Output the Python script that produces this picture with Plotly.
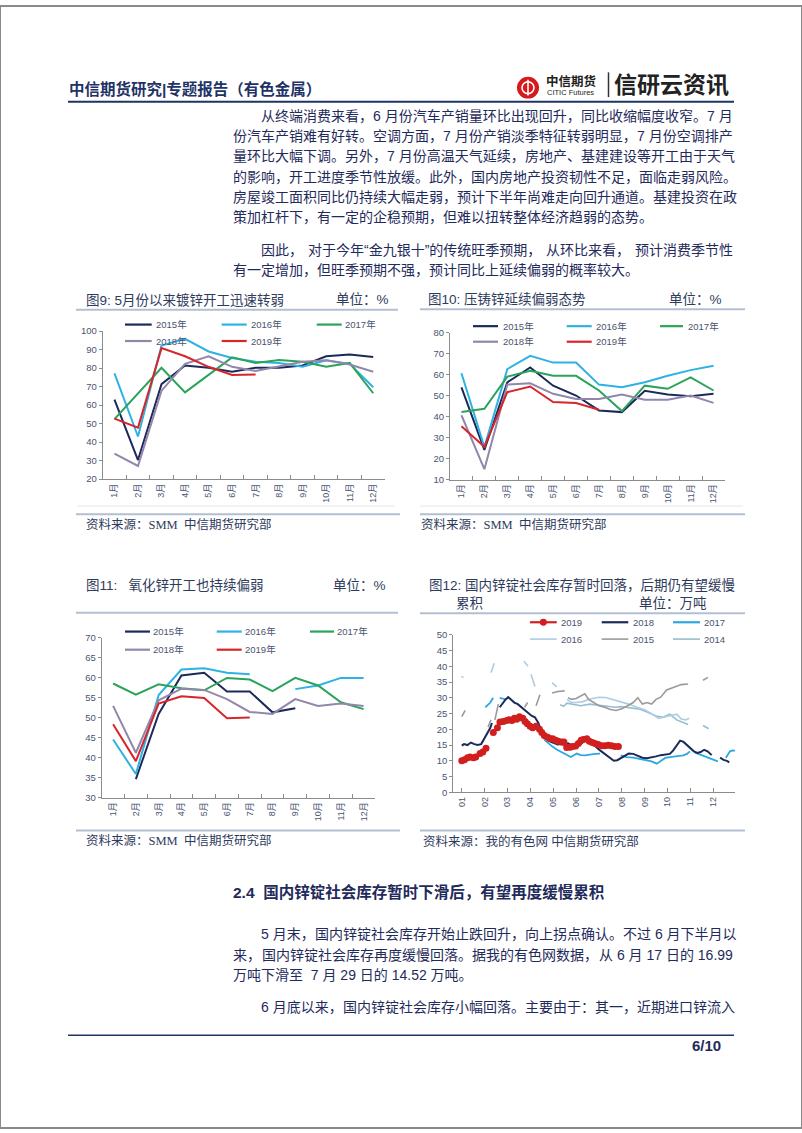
import plotly.graph_objects as go

# ---------------- data ----------------
months = ["1月", "2月", "3月", "4月", "5月", "6月", "7月", "8月", "9月", "10月", "11月", "12月"]

# Fig 9: galvanizing operating rate (%)
galv_2015 = [63, 30.3, 71.3, 81.4, 80.2, 78.0, 80.2, 80.2, 81.4, 86.4, 87.3, 86.0]
galv_2016 = [77.2, 43, 92.2, 95.8, 89.0, 85.5, 83.4, 82.8, 80.7, 84.2, 82.3, 69.6]
galv_2017 = [52.4, 66.3, 80.2, 66.9, 76.6, 85.8, 82.8, 84.4, 83.4, 80.7, 82.8, 66.4]
galv_2018 = [33.8, 27.1, 67.8, 82.3, 86.4, 80.7, 78.4, 80.9, 83.4, 84.2, 81.9, 78.0]
galv_2019 = [52.7, 47.8, 90.8, 86.4, 80.7, 76.3, 76.6, None, None, None, None, None]

# Fig 10: die-casting zinc alloy operating rate (%)
die_2015 = [54, 24.2, 56.4, 63.5, 54.8, 50.1, 43.0, 42.2, 52.4, 50.6, 49.8, 50.9]
die_2016 = [60.7, 25.5, 62.7, 69.0, 65.8, 65.8, 55.3, 54.0, 56.4, 59.5, 62.2, 64.3]
die_2017 = [42.2, 43.8, 59.1, 61.9, 59.5, 59.5, 52.5, 42.7, 54.8, 53.3, 58.8, 52.5]
die_2018 = [40.7, 15.0, 55.3, 55.9, 50.9, 48.5, 48.5, 50.6, 48.1, 48.1, 50.1, 46.6]
die_2019 = [35.5, 25.7, 51.7, 54.4, 47.0, 46.5, 43.3, None, None, None, None, None]

# Fig 11: zinc oxide operating rate (%)
oxi_2015 = [None, 34.6, 50.9, 60.5, 61.2, 56.5, 56.5, 51.3, 52.3, None, None, None]
oxi_2016 = [44.5, 35.9, 55.6, 62.0, 62.3, 61.2, 60.8, None, 57.1, 58.0, 59.9, 59.9]
oxi_2017 = [58.5, 55.7, 58.3, 57.3, 56.8, 59.9, 59.5, 56.6, 59.9, 58.0, 53.8, 52.1]
oxi_2018 = [52.9, 41.2, 54.3, 57.2, 56.9, 54.6, 51.4, 50.9, 54.6, 52.9, 53.5, 52.9]
oxi_2019 = [48.3, 39.1, 53.5, 55.3, 54.9, 49.8, 50.0, None, None, None, None, None]

# Fig 12: domestic zinc ingot social inventory (10k t); x = month of year (fractional)
inv_x_2019 = [1.0, 1.12, 1.25, 1.36, 1.51, 1.61, 1.80, 1.92, 2.06, None, 2.38, 2.56, 2.67, 2.82,
              2.97, 3.07, 3.19, 3.30, 3.40, 3.52, 3.67, 3.77, 3.87, 3.99, 4.10, 4.25, 4.40, 4.50,
              4.61, 4.76, 4.86, 4.98, 5.11, 5.22, 5.37, 5.47, 5.59, 5.74, 5.85, 5.98, 6.10, 6.22,
              6.32, 6.47, 6.58, 6.71, 6.83, 6.97, 7.12, 7.26, 7.41, 7.55, 7.70, 7.85]
inv_2019 = [10.0, 10.3, 11.0, 11.2, 11.0, 11.2, 12.3, 12.8, 14.0, None, 19.0, 20.5, 22.3, 22.5,
            22.8, 23.0, 22.8, 23.5, 23.2, 24.0, 23.5, 22.5, 21.8, 21.0, 20.5, 21.0, 20.0, 19.0,
            18.0, 17.5, 17.0, 17.0, 16.5, 16.2, 16.0, 16.0, 14.2, 14.3, 14.5, 14.7, 15.5, 16.5,
            16.8, 17.0, 16.2, 15.8, 15.5, 15.2, 14.8, 14.8, 14.9, 14.8, 14.5, 14.5]

inv_x_2018 = [1.0, 1.1, 1.25, 1.4, 1.55, 1.7, 1.85, 2.0, 2.12, 2.25, 2.32, None,
              2.66, 2.8, 2.92, 3.03, 3.15, 3.3, 3.45, 3.6, 3.75, 3.9, 4.05, 4.2, 4.35, 4.5,
              4.62, 4.75, 4.9, 5.05, 5.2, 5.35, 5.5, 5.65, 5.8, 6.0, 6.2, 6.35, 6.5, 6.62,
              6.75, 6.9, 7.05, 7.2, 7.35, 7.5, 7.65, 7.8, 8.0, 8.15, 8.3, 8.5, 8.7, 8.9,
              9.1, 9.3, 9.5, 9.7, 9.9, 10.1, 10.25, 10.4, 10.55, 10.7, 10.85, 11.0, 11.15,
              11.3, 11.45, 11.6, 11.75, 11.93, None, 12.3, 12.45, 12.6, 12.7]
inv_2018 = [14.8, 15.3, 15.0, 15.8, 15.3, 15.0, 15.3, 17.2, 18.5, 20.5, 22.0, None,
            27.0, 28.5, 29.5, 30.2, 29.5, 28.5, 28.0, 27.0, 26.0, 25.0, 24.3, 23.8, 22.0, 19.0,
            17.8, 16.8, 16.0, 15.5, 15.2, 15.3, 15.0, 15.5, 15.0, 14.6, 15.3, 16.3, 17.0, 16.5,
            15.3, 14.2, 13.3, 12.5, 11.8, 10.8, 10.0, 10.2, 11.0, 11.8, 12.3, 12.2, 11.7, 11.0,
            10.8, 11.0, 11.4, 11.8, 11.9, 12.2, 13.3, 15.0, 16.4, 16.0, 15.0, 14.2, 13.0,
            12.5, 12.8, 13.5, 13.0, 11.8, None, 11.0, 10.3, 10.0, 9.5]

inv_x_2017 = [2.03, 2.15, 2.25, 2.37, None, 2.66, 2.8, 2.92, None,
              4.3, 4.4, 4.5, 4.65, 4.8, 4.95, 5.15, 5.36, 5.55, 5.77, 6.03, 6.2, 6.39, 6.6,
              6.83, 7.05, None,
              7.95, 8.2, 8.5, 8.8, 9.1, 9.3, 9.53, 9.7, 9.9, 10.1, 10.3, 10.5, 10.69, 10.85,
              10.98, None, 11.2, 11.4, 11.55, 11.7, 11.86, 12.0, 12.2, None,
              12.55, 12.65, 12.73, 12.85, 12.95]
inv_2017 = [27.0, 28.0, 28.5, 30.0, None, 30.0, 29.8, 29.5, None,
            22.0, 20.0, 18.5, 16.5, 15.5, 14.6, 13.6, 12.8, 12.0, 11.2, 12.3, 11.8, 11.7, 12.0,
            12.2, 12.3, None,
            11.7, 11.2, 11.0, 10.6, 10.2, 9.8, 9.1, 10.0, 10.9, 11.2, 11.4, 11.6, 11.7, 12.2,
            13.0, None, 12.6, 12.0, 11.8, 11.2, 10.7, 10.2, 9.8, None,
            11.0, 12.2, 13.0, 13.3, 13.2]

inv_x_2016 = [0.98, 1.08, None, 2.28, 2.42, None, 3.72, 3.9, None, 4.03, 4.2, None, 4.95, 5.15,
              None, 5.6, 5.8, 6.0, 6.3, 6.6, 7.0, 7.3, 7.6, 8.0, 8.3, 8.65, 9.0, 9.3, 9.6, 9.9,
              10.2, 10.4, 10.6, 10.8, 10.95]
inv_2016 = [36.8, 36.4, None, 38.0, 41.0, None, 41.6, 40.0, None, 37.5, 33.6, None, 34.8, 33.5,
            None, 29.5, 28.5, 28.5, 28.8, 29.6, 30.2, 30.1, 29.5, 28.8, 28.0, 27.0, 26.2, 25.0,
            23.5, 24.0, 24.5, 24.8, 23.3, 23.0, 23.5]

inv_x_2015 = [1.0, 1.15, None, 2.15, 2.28, None, 2.45, 2.6, None, 3.75, 3.88, None, 4.25, 4.42,
              None, 4.95, 5.2, 5.5, None, 5.65, 5.8, 6.0, 6.2, 6.38, 6.55, 6.75, 7.0, 7.25, 7.5,
              7.75, 8.0, 8.25, 8.5, 8.7, 8.9, 9.1, 9.3, 9.5, 9.7, 9.96, 10.2, 10.4, 10.6, 10.9,
              None, 11.55, 11.77]
inv_2015 = [24.0, 26.0, None, 20.7, 23.0, None, 23.0, 28.0, None, 27.0, 28.5, None, 27.5, 31.0,
            None, 31.5, 32.0, 32.2, None, 30.0, 29.5, 29.8, 30.5, 31.3, 29.5, 28.5, 27.5, 27.0,
            26.3, 26.0, 26.5, 27.5, 28.5, 30.0, 28.0, 28.5, 28.0, 29.5, 30.2, 32.5, 33.2, 33.8,
            34.2, 34.4, None, 35.6, 36.5]

inv_x_2014 = [5.3, 5.45, 5.6, 5.9, 6.2, 6.6, 7.0, 7.34, 7.7, 8.0, 8.4, 8.8, 9.1, 9.5, 9.8, 10.1,
              10.4, 10.7, 10.9, None, 11.55, 11.8]
inv_2014 = [27.8, 27.3, 28.3, 27.8, 27.5, 28.0, 27.6, 27.3, 27.0, 27.2, 26.8, 26.4, 25.5, 24.2,
            23.8, 24.8, 23.0, 22.2, 21.5, None, 21.2, 20.2]

inv_tickvals = [1, 2, 3, 4, 5, 6, 7, 8, 9, 10, 11, 12]
inv_ticktext = ["01", "02", "03", "04", "05", "06", "07", "08", "09", "10", "11", "12"]

# ---------------- text ----------------
header_title = "中信期货研究|专题报告（有色金属）"
para1 = [
    "从终端消费来看，6 月份汽车产销量环比出现回升，同比收缩幅度收窄。7 月",
    "份汽车产销难有好转。空调方面，7 月份产销淡季特征转弱明显，7 月份空调排产",
    "量环比大幅下调。另外，7 月份高温天气延续，房地产、基建建设等开工由于天气",
    "的影响，开工进度季节性放缓。此外，国内房地产投资韧性不足，面临走弱风险。",
    "房屋竣工面积同比仍持续大幅走弱，预计下半年尚难走向回升通道。基建投资在政",
    "策加杠杆下，有一定的企稳预期，但难以扭转整体经济趋弱的态势。",
]
para2 = [
    "因此，对于今年“金九银十”的传统旺季预期，从环比来看，预计消费季节性",
    "有一定增加，但旺季预期不强，预计同比上延续偏弱的概率较大。",
]
section_title = "2.4\u00a0\u00a0国内锌锭社会库存暂时下滑后，有望再度缓慢累积"
para3 = [
    "5 月末，国内锌锭社会库存开始止跌回升，向上拐点确认。不过 6 月下半月以",
    "来，国内锌锭社会库存再度缓慢回落。据我的有色网数据，从 6 月 17 日的 16.99",
    "万吨下滑至\u00a0\u00a07 月 29 日的 14.52 万吨。",
]
para4 = ["6 月底以来，国内锌锭社会库存小幅回落。主要由于：其一，近期进口锌流入"]

# ---------------- styling ----------------
W, H = 802, 1133
SANS = "Liberation Sans, Noto Sans CJK SC"
SERIF = "Liberation Serif, Noto Sans CJK SC"
BODY = "#1f2b5b"
NAVY = "#1f3366"
TITLE = "#2f3b5c"
TICK = "#4a5470"
AXIS = "#8c8c8c"
SEP = "#b3bfd1"
C15, C16, C17, C18, C19 = "#1c2a5a", "#2eb2e4", "#2ba35a", "#9287ab", "#d7262b"


def px(x):
    return x / W


def py(y):
    return 1 - y / H


annotations = []
shapes = []


def text(x, y, s, size, color=BODY, family=SANS, anchor="left", bold=False):
    annotations.append(dict(
        x=px(x), y=py(y), xref="paper", yref="paper", text=s, showarrow=False,
        xanchor=anchor, yanchor="middle", borderpad=0,
        font=dict(size=size, color=color, family=family, weight="bold" if bold else "normal")))


def hline(x0, x1, y, color, width):
    shapes.append(dict(type="line", xref="paper", yref="paper", x0=px(x0), x1=px(x1),
                       y0=py(y), y1=py(y), line=dict(color=color, width=width)))


def est_w(s, fs):
    w = 0.0
    for ch in s:
        o = ord(ch)
        if ch in "“”‘’":
            w += 0.333
        elif o >= 0x2E80:
            w += 1.0
        elif ch in " .\u00a0":
            w += 0.278
        elif ch.isdigit():
            w += 0.556
        else:
            w += 0.6
    return w * fs


def body_line(s, y, left, right, justify, size=14):
    chunks, cur = [], ""
    for ch in s:
        cur += ch
        if ch in "，。、：；":
            chunks.append(cur)
            cur = ""
    if cur:
        chunks.append(cur)
    natural = est_w(s, size)
    extra = max(0.0, (right - left) - natural) if (justify and len(chunks) > 1) else 0.0
    acc = 0.0
    for i, c in enumerate(chunks):
        gap = extra * i / (len(chunks) - 1) if len(chunks) > 1 else 0.0
        text(left + acc + gap, y, c, size)
        acc += est_w(c, size)


fig = go.Figure()

# ---------------- line charts (category month axis) ----------------
axis_font = dict(family=SANS, size=9.5, color=TICK)
month_font = dict(family=SANS, size=9, color=TICK)


def ycfg(dom, rng, dtick, anchor):
    return dict(domain=dom, range=rng, dtick=dtick, tick0=rng[0], anchor=anchor,
                showgrid=False, zeroline=False, showline=True, linecolor=AXIS, linewidth=1,
                ticks="outside", ticklen=3, tickcolor=AXIS, tickfont=axis_font, fixedrange=True)


def xcat(dom, anchor):
    return dict(domain=dom, anchor=anchor, type="category", categoryorder="array",
                categoryarray=months, range=[-0.5, 11.5], showgrid=False, zeroline=False,
                showline=True, linecolor=AXIS, linewidth=1, ticks="inside", ticklen=4,
                tickcolor=AXIS, tickson="boundaries", tickangle=-90, tickfont=month_font,
                fixedrange=True)


charts = [
    (1, [galv_2015, galv_2016, galv_2017, galv_2018, galv_2019], (102.7, 385), (328.3, 477.7), [20, 100], 10),
    (2, [die_2015, die_2016, die_2017, die_2018, die_2019], (450, 725), (330, 478.3), [10, 80], 10),
    (3, [oxi_2015, oxi_2016, oxi_2017, oxi_2018, oxi_2019], (101.7, 375), (637.7, 799.3), [30, 70], 5),
]
colors = [C15, C16, C17, C18, C19]
names = ["2015年", "2016年", "2017年", "2018年", "2019年"]
layout_axes = {}
for idx, series, (x0, x1), (ytop, ybot), yr, dt in charts:
    xa = "x" if idx == 1 else f"x{idx}"
    ya = "y" if idx == 1 else f"y{idx}"
    for vals, col, nm in zip(series, colors, names):
        fig.add_trace(go.Scatter(x=months, y=vals, xaxis=xa, yaxis=ya, mode="lines", name=nm,
                                 line=dict(color=col, width=2), showlegend=False, hoverinfo="skip"))
    sfx = "" if idx == 1 else str(idx)
    layout_axes["xaxis" + sfx] = xcat([px(x0), px(x1)], ya)
    layout_axes["yaxis" + sfx] = ycfg([py(ybot), py(ytop)], yr, dt, xa)

# ---------------- inventory chart ----------------
inv_series = [
    (inv_x_2014, inv_2014, "#98bdd0", 1.6, "2014"),
    (inv_x_2016, inv_2016, "#aecde2", 1.6, "2016"),
    (inv_x_2015, inv_2015, "#9a9a9a", 1.6, "2015"),
    (inv_x_2017, inv_2017, "#2aa8df", 1.8, "2017"),
    (inv_x_2018, inv_2018, "#1c2a5a", 2.0, "2018"),
]
for xs, ys, col, wd, nm in inv_series:
    fig.add_trace(go.Scatter(x=xs, y=ys, xaxis="x4", yaxis="y4", mode="lines", name=nm,
                             line=dict(color=col, width=wd), showlegend=False, hoverinfo="skip"))
fig.add_trace(go.Scatter(x=inv_x_2019, y=inv_2019, xaxis="x4", yaxis="y4", mode="lines+markers",
                         name="2019", line=dict(color="#d11f1f", width=2),
                         marker=dict(color="#d11f1f", size=7), showlegend=False, hoverinfo="skip"))

layout_axes["xaxis4"] = dict(domain=[px(453.3), px(735)], anchor="y4", range=[0.63, 12.95],
                             tickvals=inv_tickvals, ticktext=inv_ticktext, tickangle=-90,
                             showgrid=False, zeroline=False, showline=True, linecolor=AXIS,
                             linewidth=1, ticks="inside", ticklen=4, tickcolor=AXIS,
                             tickfont=month_font, fixedrange=True)
layout_axes["yaxis4"] = ycfg([py(794), py(635)], [0, 50], 5, "x4")

# ---------------- legends (drawn keys + labels) ----------------
LEG = 9.5


def legend_item(x0, x1, y, color, label, tx, width=2.2, marker=False):
    shapes.append(dict(type="line", xref="paper", yref="paper", x0=px(x0), x1=px(x1),
                       y0=py(y), y1=py(y), line=dict(color=color, width=width)))
    if marker:
        cx, r = (x0 + x1) / 2, 3.5
        shapes.append(dict(type="circle", xref="paper", yref="paper", x0=px(cx - r), x1=px(cx + r),
                           y0=py(y + r), y1=py(y - r), fillcolor=color, line=dict(color=color, width=0)))
    text(tx, y, label, LEG, color=TICK)


def five_legend(r1, r2, cols):
    (a0, a1, at), (b0, b1, bt), (c0, c1, ct) = cols
    legend_item(a0, a1, r1, C15, "2015年", at)
    legend_item(b0, b1, r1, C16, "2016年", bt)
    legend_item(c0, c1, r1, C17, "2017年", ct)
    legend_item(a0, a1, r2, C18, "2018年", at)
    legend_item(b0, b1, r2, C19, "2019年", bt)


five_legend(321.7, 338.3, [(125, 151.7, 155), (221.7, 246.7, 250), (316.7, 341.7, 344)])
five_legend(323.3, 339, [(473, 498, 501.7), (566.7, 591.7, 595), (660, 683, 686.7)])
five_legend(631.7, 650, [(125, 150, 152), (216.7, 241.7, 244), (310, 334, 336)])

legend_item(530, 556.7, 622.3, "#d11f1f", "2019", 560, marker=True)
legend_item(601.7, 628.3, 622.3, "#1c2a5a", "2018", 631.7)
legend_item(673, 700, 622.3, "#2aa8df", "2017", 703.3)
legend_item(530, 556.7, 639.3, "#aecde2", "2016", 560, width=1.6)
legend_item(601.7, 628.3, 639.3, "#9a9a9a", "2015", 631.7, width=1.6)
legend_item(673, 700, 639.3, "#98bdd0", "2014", 703.3, width=1.6)

# ---------------- page header ----------------
text(68, 83.5, header_title, 15.5, color=NAVY, family=SANS, bold=True)
hline(68, 734, 96.7, NAVY, 2)
shapes.append(dict(type="circle", xref="paper", yref="paper", x0=px(517), x1=px(539),
                   y0=py(93.5), y1=py(71.5), fillcolor="#d7191c", line=dict(width=0)))
shapes.append(dict(type="circle", xref="paper", yref="paper", x0=px(522), x1=px(534),
                   y0=py(88.5), y1=py(76.5), fillcolor="rgba(0,0,0,0)", line=dict(color="white", width=1.6)))
shapes.append(dict(type="line", xref="paper", yref="paper", x0=px(528), x1=px(528),
                   y0=py(90.5), y1=py(74.5), line=dict(color="white", width=1.6)))
text(545, 76, "中信期货", 12.5, color="#231f20", family=SANS, bold=True)
text(546, 87.5, "CITIC Futures", 7.5, color="#231f20", family=SANS)
shapes.append(dict(type="line", xref="paper", yref="paper", x0=px(608.5), x1=px(608.5),
                   y0=py(92), y1=py(67), line=dict(color="#333333", width=1.5)))
text(613, 80, "信研云资讯", 23, color="#222222", family=SANS, bold=True)

# ---------------- body text ----------------
LEFT, RIGHT, INDENT = 232, 732, 260
for i, s in enumerate(para1):
    body_line(s, 110.7 + 20.55 * i, INDENT if i == 0 else LEFT, RIGHT, i < len(para1) - 1)
for i, s in enumerate(para2):
    body_line(s, 246 + 20.6 * i, INDENT if i == 0 else LEFT, RIGHT, i < len(para2) - 1)
text(LEFT, 895, section_title, 15.5, color=BODY, bold=True)
for i, s in enumerate(para3):
    body_line(s, 937.3 + 20.5 * i, INDENT if i == 0 else LEFT, RIGHT, i < len(para3) - 1)
body_line(para4[0], 1010.7, INDENT, RIGHT, True)

# ---------------- chart titles, separators, sources ----------------
TS = 13.5
text(85, 296.7, "图9: 5月份以来镀锌开工迅速转弱", TS, color=TITLE)
text(335, 296.7, "单位：%", TS, color=TITLE)
text(426.7, 296.7, "图10: 压铸锌延续偏弱态势", TS, color=TITLE)
text(668, 296.7, "单位：%", TS, color=TITLE)
text(85, 585, "图11:\u00a0\u00a0\u00a0氧化锌开工也持续偏弱", TS, color=TITLE)
text(331.7, 585, "单位：%", TS, color=TITLE)
text(428.3, 585, "图12: 国内锌锭社会库存暂时回落，后期仍有望缓慢", TS, color=TITLE)
text(455, 603.3, "累积", TS, color=TITLE)
text(638, 603.3, "单位：万吨", TS, color=TITLE)

hline(76, 398, 306.7, SEP, 2)
hline(420, 745, 306.2, SEP, 2)
hline(76, 398, 612.7, SEP, 2)
hline(420, 745, 613.3, SEP, 2)
hline(77, 395, 505, "#e6e6e6", 1)
hline(420, 743, 505, "#e6e6e6", 1)
hline(76, 400, 513.3, SEP, 2)
hline(420, 745, 513.3, SEP, 2)
hline(76, 400, 832.5, SEP, 2)
hline(420, 745, 832.5, SEP, 2)

SRC = 12.5
text(85, 523.3, "资料来源：SMM\u00a0\u00a0中信期货研究部", SRC, color="#2f3b5c", family=SERIF)
text(420, 523.3, "资料来源：SMM\u00a0\u00a0中信期货研究部", SRC, color="#2f3b5c", family=SERIF)
text(85, 842.7, "资料来源：SMM\u00a0\u00a0中信期货研究部", SRC, color="#2f3b5c", family=SERIF)
text(421.7, 843.3, "资料来源：我的有色网\u00a0中信期货研究部", SRC, color="#2f3b5c", family=SERIF)

# ---------------- footer ----------------
hline(68, 734, 1039.3, NAVY, 1.5)
text(722, 1050, "6/10", 15, color=BODY, anchor="right", bold=True)

# page border
shapes.append(dict(type="rect", xref="paper", yref="paper", x0=0, x1=1, y0=0, y1=1,
                   line=dict(color="#8a8a8a", width=2)))

fig.update_layout(
    width=W, height=H, margin=dict(l=0, r=0, t=0, b=0),
    paper_bgcolor="white", plot_bgcolor="white", showlegend=False,
    annotations=annotations, shapes=shapes, **layout_axes,
)

fig.write_html("out.html", config={"displayModeBar": False},
               post_script="document.body.style.margin='0';document.body.style.overflow='hidden';")
